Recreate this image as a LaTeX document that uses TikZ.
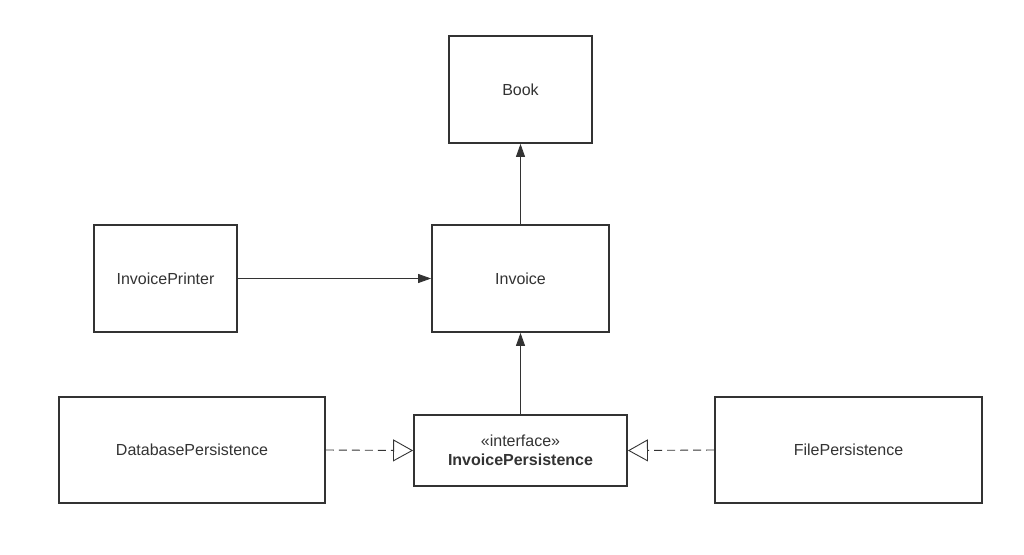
\documentclass[tikz,border=0pt]{standalone}
\usepackage{fontspec}
\setmainfont{Liberation Sans}
\usetikzlibrary{arrows.meta}
\definecolor{ink}{HTML}{333333}
\begin{document}
\begin{tikzpicture}[x=1pt,y=-1pt,
  cls/.style={draw=ink, line width=1.8pt, fill=white, text=ink, font=\fontsize{16}{19}\selectfont, inner sep=0pt, align=center},
  assoc/.style={draw=ink, line width=0.9pt, -{Triangle[length=13pt,width=9pt]}},
  realize/.style={draw=ink, line width=0.9pt, dash pattern=on 8pt off 5pt, -{Triangle[open,length=20pt,width=22pt,fill=white,line width=0.9pt]}}]
\useasboundingbox (0,0) rectangle (1024,554);
\fill[white] (0,0) rectangle (1024,554);
\node[cls, minimum width=143pt, minimum height=107pt] (book) at (520.5,89.5) {Book};
\node[cls, minimum width=177pt, minimum height=107pt] (invoice) at (520.5,278.5) {Invoice};
\node[cls, minimum width=143pt, minimum height=107pt] (printer) at (165.5,278.5) {InvoicePrinter};
\node[cls, minimum width=266pt, minimum height=106pt] (db) at (192,450) {DatabasePersistence};
\node[cls, minimum width=213pt, minimum height=71pt] (ip) at (520.5,450.5) {«interface»\\\textbf{InvoicePersistence}};
\node[cls, minimum width=267pt, minimum height=106pt] (file) at (848.5,450) {FilePersistence};
\draw[assoc] (invoice.north) -- (book.south);
\draw[assoc] (printer.east) -- (invoice.west);
\draw[assoc] (ip.north) -- (invoice.south);
\draw[realize] (db.east) -- (ip.west);
\draw[realize] (file.west) -- (ip.east);
\end{tikzpicture}
\end{document}
